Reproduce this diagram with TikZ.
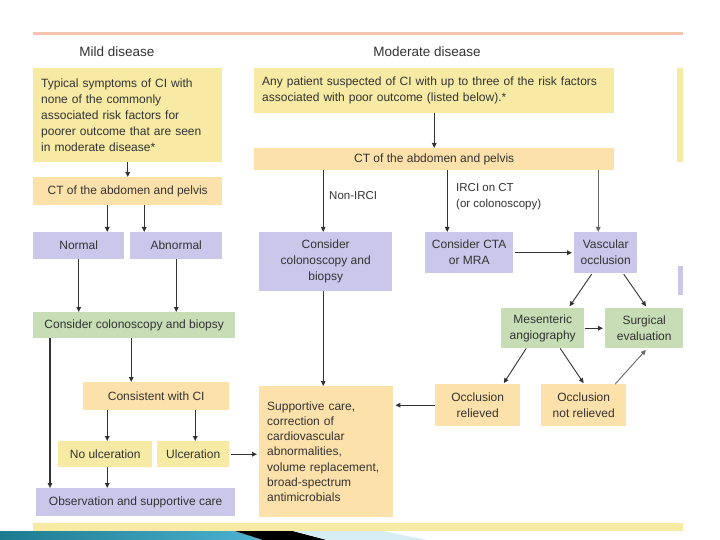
\documentclass[tikz,border=0pt]{standalone}
\usepackage{fontspec}
\setmainfont{Liberation Sans}
\usetikzlibrary{arrows.meta,calc}
\definecolor{cyel}{HTML}{F6EAA4}
\definecolor{corg}{HTML}{FDE1AB}
\definecolor{cpur}{HTML}{CAC7EA}
\definecolor{cgrn}{HTML}{C6DDB6}
\definecolor{csal}{HTML}{F6C4AE}
\definecolor{ctxt}{HTML}{333333}
\definecolor{carr}{HTML}{333333}
\definecolor{cteal}{HTML}{1C7B8F}
\definecolor{ctealL}{HTML}{4DB3D1}
\definecolor{clblue}{HTML}{D6EEF3}
\begin{document}
\begin{tikzpicture}[x=1pt,y=-1pt,
  bx/.style={rectangle,inner sep=0pt,anchor=north west,text=ctxt,
    font=\fontsize{12}{16}\selectfont,align=center},
  lbx/.style={bx,inner xsep=8pt,align=left},
  yel/.style={fill=cyel},
  org/.style={fill=corg},
  pur/.style={fill=cpur},
  grn/.style={fill=cgrn},
  arr/.style={draw=carr,line width=1.3pt,-{Triangle[length=5pt,width=4.5pt]}},
  thinarr/.style={arr,line width=0.9pt},
  lab/.style={text=ctxt,font=\fontsize{11.5}{15.5}\selectfont,inner sep=0pt},
  hd/.style={text=ctxt,font=\fontsize{13.5}{16}\selectfont,inner sep=0pt}
]
\useasboundingbox (0,0) rectangle (720,540);
\fill[white] (0,0) rectangle (720,540);

% top rule
\fill[csal] (33,32.5) rectangle (683,35.5);

% headers
\node[hd] (h1) at (117,52) {Mild disease};
\node[hd] (h2) at (427,52) {Moderate disease};

% mild column
\node[lbx,yel,minimum width=189pt,minimum height=94pt,text width=173pt] (b1) at (33,68)
  {Typical symptoms of CI with\\none of the commonly\\associated risk factors for\\poorer outcome that are seen\\in moderate disease*};
\node[bx,org,minimum width=189pt,minimum height=28pt] (ct1) at (33,177) {CT of the abdomen and pelvis};
\node[bx,pur,minimum width=91pt,minimum height=27pt] (normal) at (33,232) {Normal};
\node[bx,pur,minimum width=92pt,minimum height=27pt] (abn) at (130,232) {Abnormal};
\node[bx,grn,minimum width=202pt,minimum height=26pt] (cons1) at (33,312) {Consider colonoscopy and biopsy};
\node[bx,org,minimum width=146pt,minimum height=28pt] (consist) at (83,382) {Consistent with CI};
\node[bx,yel,minimum width=94pt,minimum height=26pt] (noulc) at (58,441) {No ulceration};
\node[bx,yel,minimum width=72pt,minimum height=26pt] (ulc) at (157,441) {Ulceration};
\node[bx,pur,minimum width=199pt,minimum height=28pt] (obs) at (36,488) {Observation and supportive care};

% moderate column
\node[lbx,yel,minimum width=360pt,minimum height=45pt,text width=344pt] (b2) at (254,68)
  {Any patient suspected of CI with up to three of the risk factors\\associated with poor outcome (listed below).*};
\node[bx,yel,minimum width=6pt,minimum height=94pt] (strip1) at (677,68) {};
\node[bx,org,minimum width=360pt,minimum height=22pt] (ct2) at (254,148) {CT of the abdomen and pelvis};
\node[bx,pur,minimum width=133pt,minimum height=59pt] (cons2) at (259,232) {Consider\\colonoscopy and\\biopsy};
\node[bx,pur,minimum width=88pt,minimum height=41pt] (cta) at (425,232) {Consider CTA\\or MRA};
\node[bx,pur,minimum width=63pt,minimum height=41pt] (vasc) at (574,232) {Vascular\\occlusion};
\node[bx,pur,minimum width=5pt,minimum height=29pt] (strip2) at (678,266) {};
\node[bx,grn,minimum width=83pt,minimum height=40pt] (mes) at (501,308) {Mesenteric\\angiography};
\node[bx,grn,minimum width=78pt,minimum height=40pt] (surg) at (605,308) {Surgical\\evaluation};
\node[bx,org,minimum width=85pt,minimum height=42pt] (orel) at (435,384) {Occlusion\\relieved};
\node[bx,org,minimum width=85pt,minimum height=42pt] (onrel) at (541,384) {Occlusion\\not relieved};
\node[lbx,org,minimum width=134pt,minimum height=131pt,text width=118pt,
      font=\fontsize{12}{15.3}\selectfont] (supp) at (259,386)
  {Supportive care,\\correction of\\cardiovascular\\abnormalities,\\volume replacement,\\broad-spectrum\\antimicrobials};

% labels
\node[lab,anchor=west] (l1) at (329,196) {Non-IRCI};
\node[lab,anchor=west,align=left] (l2) at (456,196.5) {IRCI on CT\\(or colonoscopy)};

% helper coordinates
\coordinate (p3) at ([xshift=-20.5pt]ct1.south);
\coordinate (p4) at ([xshift=16.5pt]ct1.south);
\coordinate (p7) at ([xshift=17pt]cons1.south west);
\coordinate (p8) at ([xshift=-3pt]cons1.south);
\coordinate (p9) at ([xshift=2pt]noulc.north);
\coordinate (p10) at ([xshift=2pt]ulc.north);
\coordinate (p11) at ([xshift=2pt]noulc.south);
\coordinate (p13) at ([xshift=-2.5pt]cons2.north);
\coordinate (p14) at ([xshift=-2.5pt]cons2.south);
\coordinate (p15) at ([xshift=-22pt]cta.north);
\coordinate (p16) at ([xshift=-7.5pt]vasc.north);

% mild arrows
\draw[arr] (b1.south) -- (ct1.north);
\draw[arr] (p3) -- (p3 |- normal.north);
\draw[arr] (p4) -- (p4 |- abn.north);
\draw[arr] (normal.south) -- (normal.south |- cons1.north);
\draw[arr] (abn.south) -- (abn.south |- cons1.north);
\draw[arr] (p7) -- (p7 |- obs.north);
\draw[arr] (p8) -- (p8 |- consist.north);
\draw[arr] (p9 |- consist.south) -- (p9);
\draw[arr] (p10 |- consist.south) -- (p10);
\draw[arr] (p11) -- (p11 |- obs.north);
\draw[arr,shorten <=2pt,shorten >=2pt] (ulc.east) -- (ulc.east -| supp.west);

% moderate arrows
\draw[arr] (b2.south) -- (ct2.north);
\draw[thinarr] (p13 |- ct2.south) -- (p13);
\draw[arr] (p14) -- (p14 |- supp.north);
\draw[thinarr] (p15 |- ct2.south) -- (p15);
\draw[arr,draw=black!60] (p16 |- ct2.south) -- (p16);
\draw[arr,shorten <=2pt,shorten >=2pt] (cta.east) -- (vasc.west);
\draw[thinarr,shorten <=1pt,shorten >=2pt] ([xshift=-13.5pt]vasc.south) -- ([xshift=-16pt]mes.north east);
\draw[thinarr,shorten <=1pt,shorten >=2pt] ([xshift=17.5pt]vasc.south) -- ([xshift=3pt]surg.north);
\draw[arr,shorten <=1pt,shorten >=2pt] (mes.east) -- (surg.west);
\draw[thinarr,shorten >=1pt] ([xshift=-16.5pt]mes.south) -- ([xshift=25.5pt]orel.north);
\draw[thinarr,shorten >=1pt] ([xshift=17.5pt]mes.south) -- ([xshift=0.5pt]onrel.north);
\draw[thinarr,draw=black!60,shorten >=2pt] ([xshift=31.5pt]onrel.north) -- ([xshift=3pt]surg.south);
\draw[arr,shorten >=2pt] (orel.west) -- (orel.west -| supp.east);

% bottom decoration
\fill[cyel] (33,523) rectangle (683,531);
\shade[left color=cteal,right color=ctealL] (0,531) -- (235,531) -- (263,540) -- (0,540) -- cycle;
\fill[black] (235,531) -- (293,531) -- (327,540) -- (263,540) -- cycle;
\fill[clblue] (293,531) -- (383,531) -- (427,540) -- (327,540) -- cycle;
\end{tikzpicture}
\end{document}
